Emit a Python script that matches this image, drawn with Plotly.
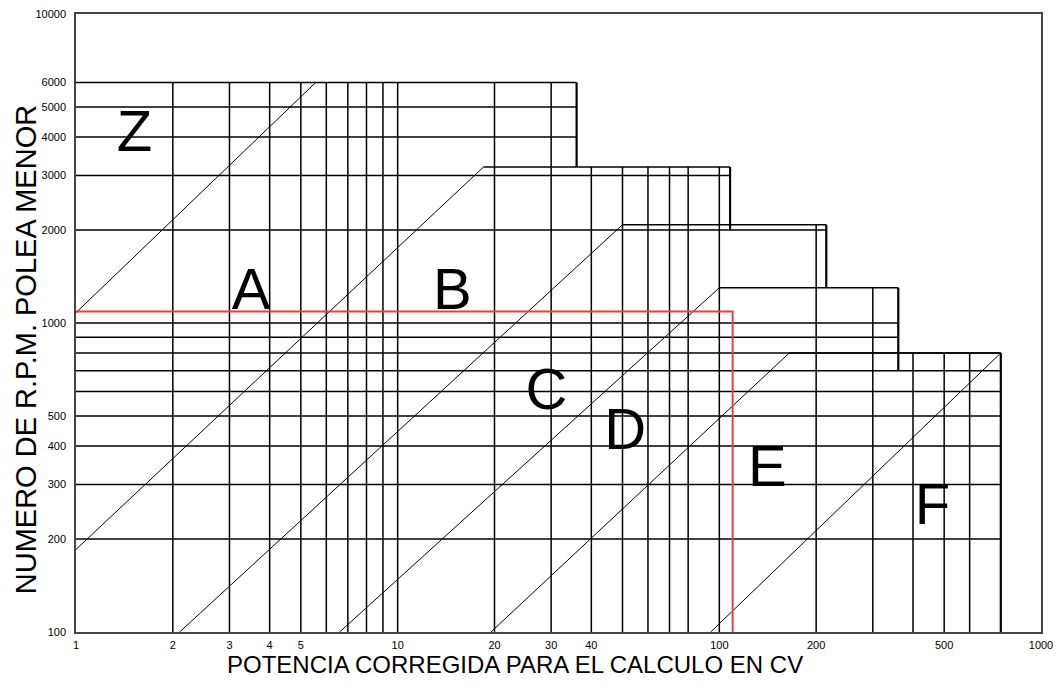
import plotly.graph_objects as go

# axis ticks
cv_ticks = [1, 2, 3, 4, 5, 10, 20, 30, 40, 100, 200, 500, 1000]
rpm_ticks = [100, 200, 300, 400, 500, 1000, 2000, 3000, 4000, 5000, 6000, 10000]

# horizontal grid lines (rpm) and the CV where each one stops
rpm_grid = [200, 300, 400, 500, 600, 700, 800, 900, 1000, 2000, 3000, 4000, 5000]
rpm_grid_end = [750, 750, 750, 750, 750, 750, 750, 360, 360, 215, 108, 36, 36]

# vertical grid lines (CV) and the rpm where each one stops
cv_grid = [2, 3, 4, 5, 6, 7, 8, 9, 10, 20, 30, 40, 50, 60, 70, 80, 100, 200, 300, 400, 500, 600]
cv_grid_top = [6000, 6000, 6000, 6000, 6000, 6000, 6000, 6000, 6000, 6000, 6000,
               3200, 3200, 3200, 3200, 3200, 3200, 2080, 1300, 800, 800, 800]

# staircase: upper limit of each zone and its right edge
step_rpm = [6000, 3200, 2080, 1300, 800]
step_cv_from = [1, 18.5, 50, 100, 165]
step_cv_to = [36, 108, 215, 360, 750]
step_rpm_down = [3200, 2000, 1300, 700, 100]

# diagonal boundaries between belt sections
diag_cv_start = [1, 1, 2.1, 6.6, 19.5, 94]
diag_rpm_start = [1080, 185, 100, 100, 100, 100]
diag_cv_end = [5.56, 18.5, 50, 100, 165, 750]
diag_rpm_end = [6000, 3200, 2080, 1300, 800, 800]

# section letters
zone_names = ['Z', 'A', 'B', 'C', 'D', 'E', 'F']
zone_cv = [1.52, 3.5, 14.8, 29, 51, 141, 460]
zone_rpm = [4000, 1240, 1240, 585, 435, 330, 250]

# worked example (red)
example_cv = 110
example_rpm = 1090


def segments(pairs):
    xs, ys = [], []
    for (x0, y0), (x1, y1) in pairs:
        xs += [x0, x1, None]
        ys += [y0, y1, None]
    return xs, ys


fig = go.Figure()

hx, hy = segments([((1, r), (e, r)) for r, e in zip(rpm_grid, rpm_grid_end)])
vx, vy = segments([((c, 100), (c, t)) for c, t in zip(cv_grid, cv_grid_top)])
fig.add_trace(go.Scatter(x=hx + vx, y=hy + vy, mode='lines',
                         line=dict(color='black', width=1.5), hoverinfo='skip'))

tx, ty = segments([((a, r), (b, r)) for r, a, b in zip(step_rpm, step_cv_from, step_cv_to)])
fig.add_trace(go.Scatter(x=tx, y=ty, mode='lines',
                         line=dict(color='black', width=1.5), hoverinfo='skip'))
ex, ey = segments([((b, r), (b, d)) for r, b, d in zip(step_rpm, step_cv_to, step_rpm_down)])
fig.add_trace(go.Scatter(x=ex, y=ey, mode='lines',
                         line=dict(color='black', width=2.2), hoverinfo='skip'))

dx, dy = segments([((a, b), (c, d)) for a, b, c, d in
                   zip(diag_cv_start, diag_rpm_start, diag_cv_end, diag_rpm_end)])
fig.add_trace(go.Scatter(x=dx, y=dy, mode='lines',
                         line=dict(color='black', width=1), hoverinfo='skip'))

fig.add_trace(go.Scatter(x=[1, example_cv, example_cv], y=[example_rpm, example_rpm, 100],
                         mode='lines', line=dict(color='#f03c3c', width=2), hoverinfo='skip'))

fig.add_trace(go.Scatter(x=zone_cv, y=zone_rpm, mode='text', text=zone_names,
                         textfont=dict(family='Liberation Sans, Arial', size=58, color='black'),
                         hoverinfo='skip'))

# the page adds an 8px body margin, so the figure is a bit smaller than the window
fig.update_layout(
    width=1045, height=670,
    margin=dict(l=68, r=12, t=6, b=46),
    plot_bgcolor='white', paper_bgcolor='white',
    showlegend=False,
    font=dict(family='Liberation Sans, Arial', color='black'),
    annotations=[
        dict(text='POTENCIA CORREGIDA PARA EL CALCULO EN CV', xref='paper', yref='paper',
             x=0.455, y=-0.053, xanchor='center', yanchor='middle', showarrow=False,
             font=dict(size=24, color='black')),
        dict(text='NUMERO DE R.P.M. POLEA MENOR', xref='paper', yref='paper',
             x=-0.0518, y=0.456, xanchor='center', yanchor='middle', showarrow=False,
             textangle=-90, font=dict(size=29, color='black')),
    ],
)
fig.update_xaxes(type='log', range=[0, 3], tickvals=cv_ticks, ticktext=[str(v) for v in cv_ticks],
                 showgrid=False, zeroline=False, showline=True, mirror=True, automargin=False,
                 linecolor='#444', linewidth=1.5, ticks='', ticklabeloverflow='allow',
                 tickfont=dict(size=11, color='black'), ticklabelstandoff=2)
fig.update_yaxes(type='log', range=[2, 4], tickvals=rpm_ticks, ticktext=[str(v) for v in rpm_ticks],
                 showgrid=False, zeroline=False, showline=True, mirror=True, automargin=False,
                 linecolor='#444', linewidth=1.5, ticks='', ticklabeloverflow='allow',
                 tickfont=dict(size=11, color='black'), ticklabelstandoff=6)

fig.write_html("out.html")
